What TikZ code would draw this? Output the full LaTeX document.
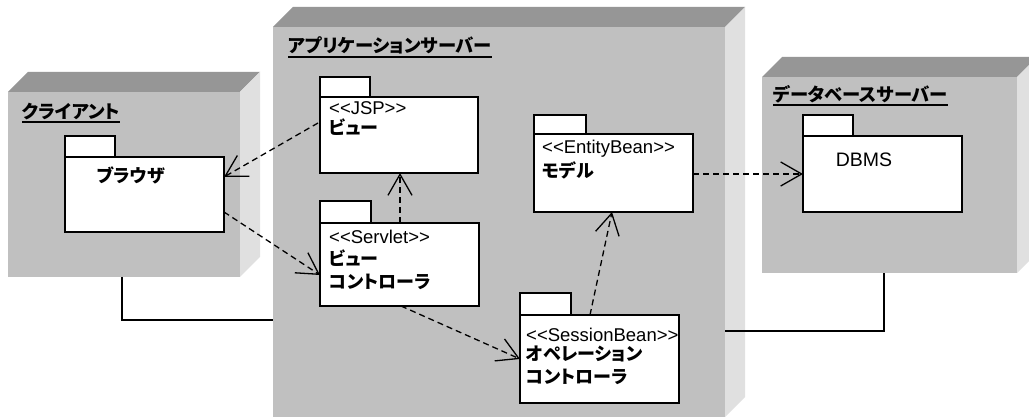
\documentclass[tikz,border=0pt]{standalone}
\usepackage{fontspec}
\setmainfont{Liberation Sans}
\newfontfamily\jp{Noto Sans CJK JP}[RawFeature=+palt]
\usetikzlibrary{arrows.meta,calc}
\definecolor{frontc}{HTML}{C0C0C0}
\definecolor{topc}{HTML}{969696}
\definecolor{sidec}{HTML}{E0E0E0}
\newcommand\cubenode[5]{%
  \node[cubefront, minimum width=#4pt, minimum height=#5pt] (#1) at (#2,#3) {};
  \fill[topc] (#1.north west) -- ++(20,-20) -- ($(#1.north east)+(20,-20)$) -- (#1.north east) -- cycle;
  \fill[sidec] (#1.north east) -- ++(20,-20) -- ($(#1.south east)+(20,-20)$) -- (#1.south east) -- cycle;
}
\newcommand\pkgnode[7]{% name, x, tabtop, tabright, bodytop, bodyright, bodybottom
  \draw[pkgline] (#2,#3) rectangle (#4,#5);
  \node[pkgbody, minimum width={#6-#2}, minimum height={#7-#5}] (#1) at (#2,#5) {};
}
\begin{document}
\begin{tikzpicture}[x=1pt,y=-1pt,
  cubefront/.style={fill=frontc, draw=none, inner sep=0pt, outer sep=0pt, anchor=north west},
  pkgline/.style={draw=black, line width=2pt, fill=white},
  pkgbody/.style={draw=black, line width=2pt, fill=white, inner sep=0pt, outer sep=0pt, anchor=north west},
  title/.style={font=\jp\bfseries\fontsize{18.3}{20}\selectfont, inner sep=0pt, anchor=west},
  uline/.style={line width=2pt},
  stereo/.style={font=\fontsize{18.5}{20}\selectfont, inner sep=0pt, anchor=west},
  jname/.style={font=\jp\bfseries\fontsize{18}{20}\selectfont, inner sep=0pt, anchor=west},
  dep/.style={line width=1.3pt, dash pattern=on 6pt off 4pt, -{Straight Barb[length=21pt,width=24pt,line width=1.3pt]}},
  link/.style={line width=1.5pt}]
\useasboundingbox (0,0) rectangle (1029,419);
\clip (0,0) rectangle (1029,419);
\fill[white] (0,0) rectangle (1029,419);

% nodes (3D boxes)
\cubenode{client}{8}{92}{232}{185}
\cubenode{app}{273}{27}{452}{390}
\cubenode{db}{762}{77}{255}{196}

% titles
\node[title] (tclient) at (22,112) {クライアント};
\draw[uline] (tclient.west |- 0,122) -- (tclient.east |- 0,122);
\node[title] (tapp) at (288,45) {アプリケーションサーバー};
\draw[uline] (tapp.west |- 0,57) -- (tapp.east |- 0,57);
\node[title] (tdb) at (773,94) {データベースサーバー};
\draw[uline] (tdb.west |- 0,105) -- (tdb.east |- 0,105);

% packages
\pkgnode{browser}{65}{136}{115}{157}{224}{232}
\pkgnode{jsp}{320}{77}{370}{97}{478}{173}
\pkgnode{servlet}{320}{201}{371}{223}{479}{306}
\pkgnode{entity}{534}{115}{586}{134}{693}{212}
\pkgnode{session}{520}{293}{571}{315}{679}{403}
\pkgnode{dbms}{803}{115}{853}{136}{962}{212}

% package texts
\node[jname, anchor=center] (lbrowser) at (131,175) {ブラウザ};
\node[stereo] (sjsp) at (329,108) {{<}{<}JSP{>}{>}};
\node[jname] (njsp) at (329,127) {ビュー};
\node[stereo] (sservlet) at (329,237) {{<}{<}Servlet{>}{>}};
\node[jname] (nservlet1) at (329,258) {ビュー};
\node[jname] (nservlet2) at (329,282) {コントローラ};
\node[stereo] (sentity) at (542,149) {{<}{<}EntityBean{>}{>}};
\node[jname] (nentity) at (542,170) {モデル};
\node[stereo] (ssession) at (526,335) {{<}{<}SessionBean{>}{>}};
\node[jname] (nsession1) at (526,354) {オペレーション};
\node[jname] (nsession2) at (526,377) {コントローラ};
\node[stereo, anchor=center, font=\fontsize{19.5}{21}\selectfont] (ldbms) at (864,160) {DBMS};

% dependencies
\draw[dep] ($(jsp.north west)+(-2,26)$) -- ($(browser.north east)+(0,20)$);
\draw[dep] ($(browser.north east)+(0,55)$) -- ($(servlet.north west)+(0,52)$);
\draw[dep] ($(servlet.north west)+(80,0)$) -- ($(jsp.south west)+(80,0)$);
\draw[dep] ($(servlet.south west)+(81,0)$) -- ($(session.north west)+(0,44)$);
\draw[dep] ($(session.north west)+(70,0)$) -- ($(entity.south west)+(78,0)$);
\draw[dep] ($(entity.north east)+(0,40)$) -- ($(dbms.north west)+(0,38)$);

% communication links
\draw[link] ($(client.south west)+(114,0)$) |- (app.west |- 0,320);
\draw[link] (app.east |- 0,331) -| ($(db.south west)+(122,0)$);
\end{tikzpicture}
\end{document}
